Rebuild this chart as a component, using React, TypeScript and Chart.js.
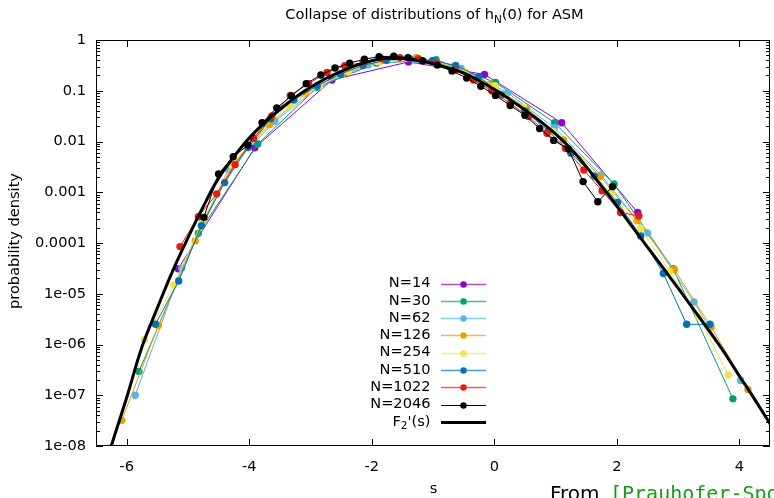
import React, { useEffect, useRef } from "react";
import { Chart, registerables } from "chart.js";
Chart.register(...registerables);

// ---------- data ----------
const n14S = [-5.16, -3.91, -2.65, -1.40, -0.16, 1.10, 2.34];
const n14V = [3.1e-5, 7.5e-3, 0.163, 0.37, 0.21, 0.0234, 4.0e-4];

const n30S = [-5.80, -4.83, -3.86, -2.89, -1.92, -0.95, 0.02, 0.985, 1.955, 2.92, 3.895];
const n30V = [2.95e-7, 1.55e-4, 8.9e-3, 0.117, 0.35, 0.41, 0.145, 0.0234, 1.45e-3, 3.1e-5, 8.5e-8];

const n62S = [-5.86, -5.10, -4.34, -3.58, -2.82, -2.06, -1.30, -0.54, 0.22, 0.98, 1.74, 2.50, 3.26, 4.02];
const n62V = [1.0e-7, 3.2e-5, 2.8e-3, 0.025, 0.13, 0.32, 0.40, 0.275, 0.091, 0.0186, 2.2e-3, 1.58e-4, 6.9e-6, 1.95e-7];

const n126S = [-6.08, -5.48, -4.88, -4.27, -3.67, -3.07, -2.47, -1.87, -1.27, -0.67, -0.07, 0.53, 1.13, 1.73, 2.33, 2.94, 3.54, 4.14];
const n126V = [3.2e-8, 2.4e-6, 1.1e-4, 3.5e-3, 0.0215, 0.089, 0.22, 0.38, 0.45, 0.295, 0.135, 0.045, 0.0107, 2.05e-3, 2.75e-4, 3.0e-5, 2.2e-6, 1.3e-7];

const n254S = [-5.71, -5.23, -4.76, -4.28, -3.81, -3.33, -2.85, -2.38, -1.90, -1.42, -0.95, -0.47, 0.01, 0.48, 0.96, 1.44, 1.91, 2.39, 2.86, 3.34, 3.82];
const n254V = [1.26e-6, 1.48e-5, 2.8e-4, 3.5e-3, 0.0166, 0.052, 0.126, 0.24, 0.37, 0.43, 0.355, 0.235, 0.126, 0.047, 0.0158, 4.0e-3, 9.5e-4, 1.95e-4, 2.75e-5, 3.5e-6, 2.5e-7];

const n510S = [-5.53, -5.15, -4.78, -4.40, -4.02, -3.65, -3.27, -2.89, -2.51, -2.14, -1.76, -1.38, -1.01, -0.63, -0.25, 0.12, 0.50, 0.88, 1.25, 1.63, 2.01, 2.39, 2.76, 3.14, 3.52];
const n510V = [2.5e-6, 1.78e-5, 2.2e-4, 1.55e-3, 7.6e-3, 0.028, 0.066, 0.126, 0.214, 0.316, 0.40, 0.43, 0.39, 0.316, 0.19, 0.083, 0.040, 0.0162, 5.9e-3, 2.1e-3, 6.3e-4, 1.38e-4, 2.5e-5, 2.5e-6, 2.5e-6];

const n1022S = [-5.13, -4.83, -4.53, -4.23, -3.93, -3.63, -3.33, -3.03, -2.73, -2.44, -2.14, -1.84, -1.54, -1.24, -0.94, -0.64, -0.34, -0.04, 0.26, 0.56, 0.86, 1.16, 1.46, 1.76, 2.06, 2.36];
const n1022V = [8.5e-5, 3.3e-4, 9.3e-4, 3.5e-3, 0.0115, 0.032, 0.081, 0.138, 0.23, 0.31, 0.36, 0.43, 0.45, 0.43, 0.355, 0.257, 0.162, 0.10, 0.056, 0.031, 0.0145, 7.4e-3, 2.75e-3, 1.07e-3, 4.0e-4, 3.4e-4];

const n2046S = [-4.74, -4.50, -4.26, -4.02, -3.79, -3.55, -3.31, -3.07, -2.83, -2.60, -2.36, -2.12, -1.88, -1.64, -1.41, -1.17, -0.93, -0.69, -0.45, -0.22, 0.02, 0.26, 0.50, 0.74, 0.97, 1.21, 1.45, 1.69, 1.93];
const n2046V = [3.2e-4, 2.3e-3, 5.0e-3, 8.5e-3, 0.0234, 0.046, 0.079, 0.138, 0.204, 0.28, 0.35, 0.42, 0.47, 0.48, 0.45, 0.39, 0.32, 0.245, 0.178, 0.123, 0.081, 0.051, 0.033, 0.018, 0.0105, 7.1e-3, 1.62e-3, 6.5e-4, 1.29e-3];

const f2S = [-6.4, -6.25, -6.0, -5.75, -5.5, -5.25, -5.0, -4.75, -4.5, -4.25, -4.0, -3.75, -3.5, -3.25, -3.0, -2.75, -2.5, -2.25, -2.0, -1.75, -1.5, -1.25, -1.0, -0.75, -0.5, -0.25, 0, 0.25, 0.5, 0.75, 1.0, 1.25, 1.5, 1.75, 2.0, 2.25, 2.5, 2.75, 3.0, 3.25, 3.5, 3.75, 4.0, 4.25, 4.5];
const f2V = [2.3e-9, 1.0e-8, 8.9e-8, 8.9e-7, 5.2e-6, 2.8e-5, 1.26e-4, 5.2e-4, 1.9e-3, 5.0e-3, 0.0117, 0.0234, 0.0427, 0.074, 0.117, 0.174, 0.24, 0.316, 0.39, 0.435, 0.43, 0.395, 0.34, 0.28, 0.224, 0.158, 0.107, 0.068, 0.042, 0.025, 0.0141, 7.2e-3, 3.2e-3, 1.32e-3, 5.4e-4, 2.1e-4, 8.3e-5, 3.3e-5, 1.29e-5, 5.0e-6, 1.9e-6, 7.1e-7, 2.4e-7, 8.3e-8, 2.75e-8];

const seriesLabels = ["N=14", "N=30", "N=62", "N=126", "N=254", "N=510", "N=1022", "N=2046"];
const seriesColors = ["#9400d3", "#009e73", "#56b4e9", "#e69f00", "#f0e442", "#0072b2", "#e51e10", "#000000"];
const seriesS = [n14S, n30S, n62S, n126S, n254S, n510S, n1022S, n2046S];
const seriesV = [n14V, n30V, n62V, n126V, n254V, n510V, n1022V, n2046V];

const xTickValues = [-6, -4, -2, 0, 2, 4];
const xTickLabels = ["-6", "-4", "-2", "0", "2", "4"];
const yTickValues = [1e-8, 1e-7, 1e-6, 1e-5, 1e-4, 1e-3, 1e-2, 1e-1, 1];
const yTickLabels = ["1e-08", "1e-07", "1e-06", "1e-05", "0.0001", "0.001", "0.01", "0.1", "1"];

const FONT = "DejaVu Sans";

const decorPlugin = {
  id: "decor",
  afterDatasetsDraw(chart: any) {
    const { ctx, chartArea } = chart;
    const { left, right, top, bottom } = chartArea;
    const xs = chart.scales.x;
    const ys = chart.scales.y;
    ctx.save();
    ctx.strokeStyle = "#000";
    ctx.lineWidth = 1;
    ctx.beginPath();
    ctx.rect(Math.round(left) + 0.5, Math.round(top) + 0.5, Math.round(right - left) - 1, Math.round(bottom - top) - 1);
    for (const v of xTickValues) {
      const px = Math.round(xs.getPixelForValue(v)) + 0.5;
      ctx.moveTo(px, bottom);
      ctx.lineTo(px, bottom - 7);
      ctx.moveTo(px, top);
      ctx.lineTo(px, top + 7);
    }
    for (let d = 0; d < yTickValues.length; d++) {
      const base = yTickValues[d];
      const py = Math.round(ys.getPixelForValue(base)) + 0.5;
      ctx.moveTo(left, py);
      ctx.lineTo(left + 7, py);
      ctx.moveTo(right, py);
      ctx.lineTo(right - 7, py);
      if (d < yTickValues.length - 1) {
        for (let m = 2; m <= 9; m++) {
          const pm = Math.round(ys.getPixelForValue(base * m)) + 0.5;
          ctx.moveTo(left, pm);
          ctx.lineTo(left + 4, pm);
          ctx.moveTo(right, pm);
          ctx.lineTo(right - 4, pm);
        }
      }
    }
    ctx.stroke();
    ctx.restore();
  },
  afterDraw(chart: any) {
    const { ctx } = chart;
    ctx.save();
    ctx.fillStyle = "#000";
    ctx.textBaseline = "alphabetic";
    const f = `14.6px '${FONT}'`;
    const fs = `10.5px '${FONT}'`;
    const t1 = "Collapse of distributions of h";
    const t2 = "N";
    const t3 = "(0) for ASM";
    ctx.font = f;
    const w1 = ctx.measureText(t1).width;
    const w3 = ctx.measureText(t3).width;
    ctx.font = fs;
    const w2 = ctx.measureText(t2).width;
    const x0 = 434.5 - (w1 + w2 + w3) / 2;
    const ty = 19;
    ctx.textAlign = "left";
    ctx.font = f;
    ctx.fillText(t1, x0, ty);
    ctx.font = fs;
    ctx.fillText(t2, x0 + w1, ty + 3.5);
    ctx.font = f;
    ctx.fillText(t3, x0 + w1 + w2, ty);

    ctx.font = f;
    ctx.textAlign = "center";
    ctx.textBaseline = "middle";
    ctx.fillText("s", 433.5, 489);
    ctx.save();
    ctx.translate(15, 241);
    ctx.rotate(-Math.PI / 2);
    ctx.fillText("probability density", 0, 0);
    ctx.restore();

    const lx = 430.5;
    const l0 = 441;
    const l1 = 486;
    const mk = 463.5;
    const y0 = 283.5;
    const dy = 17.3;
    ctx.textBaseline = "middle";
    for (let i = 0; i < seriesLabels.length; i++) {
      const y = y0 + i * dy;
      ctx.textAlign = "right";
      ctx.fillStyle = "#000";
      ctx.font = f;
      ctx.fillText(seriesLabels[i], lx, y);
      ctx.strokeStyle = seriesColors[i];
      ctx.globalAlpha = i === 7 ? 1 : 0.7;
      ctx.lineWidth = i === 7 ? 1 : 1.6;
      ctx.beginPath();
      ctx.moveTo(l0, Math.round(y) + 0.5);
      ctx.lineTo(l1, Math.round(y) + 0.5);
      ctx.stroke();
      ctx.globalAlpha = 1;
      ctx.fillStyle = seriesColors[i];
      ctx.beginPath();
      ctx.arc(mk, Math.round(y) + 0.5, 3.2, 0, Math.PI * 2);
      ctx.fill();
    }
    {
      const y = y0 + 8 * dy;
      ctx.fillStyle = "#000";
      ctx.textAlign = "left";
      ctx.font = f;
      const a = "F";
      const c = "'(s)";
      const wa = ctx.measureText(a).width;
      const wc = ctx.measureText(c).width;
      ctx.font = fs;
      const wb = ctx.measureText("2").width;
      const sx = lx - (wa + wb + wc);
      ctx.font = f;
      ctx.fillText(a, sx, y);
      ctx.font = fs;
      ctx.fillText("2", sx + wa, y + 4);
      ctx.font = f;
      ctx.fillText(c, sx + wa + wb, y);
      ctx.strokeStyle = "#000";
      ctx.lineWidth = 3;
      ctx.beginPath();
      ctx.moveTo(l0, Math.round(y) + 0.5);
      ctx.lineTo(l1, Math.round(y) + 0.5);
      ctx.stroke();
    }

    ctx.textAlign = "left";
    ctx.textBaseline = "alphabetic";
    ctx.fillStyle = "#000";
    ctx.font = `20px '${FONT}'`;
    ctx.fillText("From ", 550, 500);
    ctx.fillStyle = "#12a012";
    ctx.font = `20px 'DejaVu Sans Mono'`;
    ctx.fillText("[Prauhofer-Spohn]", 610, 500);
    ctx.restore();
  },
};

export default function App() {
  const ref = useRef<HTMLCanvasElement | null>(null);
  useEffect(() => {
    document.body.style.margin = "0";
    const canvas = ref.current!;
    const datasets: any[] = seriesLabels.map((lab, i) => ({
      label: lab,
      data: seriesS[i].map((s, j) => ({ x: s, y: seriesV[i][j] })),
      borderColor: seriesColors[i],
      backgroundColor: seriesColors[i],
      pointBackgroundColor: seriesColors[i],
      borderWidth: 1,
      pointRadius: 3.7,
      pointBorderWidth: 0,
      tension: 0,
      order: 8 - i,
    }));
    datasets.push({
      label: "F2'(s)",
      data: f2S.map((s, j) => ({ x: s, y: f2V[j] })),
      borderColor: "#000",
      borderWidth: 3,
      pointRadius: 0,
      tension: 0.4,
      order: 0,
    });
    const chart = new Chart(canvas, {
      type: "line",
      data: { datasets },
      options: {
        responsive: false,
        animation: false,
        devicePixelRatio: 1,
        layout: { padding: { top: 40, right: 0, left: 0, bottom: 0 } },
        plugins: { legend: { display: false }, tooltip: { enabled: false }, title: { display: false } },
        scales: {
          x: {
            type: "linear",
            min: -6.5,
            max: 4.5,
            grid: { display: false, drawTicks: false },
            border: { display: false },
            afterBuildTicks: (s: any) => {
              s.ticks = xTickValues.map((v) => ({ value: v }));
            },
            afterFit: (s: any) => {
              s.height = 52;
            },
            ticks: {
              autoSkip: false,
              maxRotation: 0,
              padding: 12,
              color: "#000",
              font: { family: FONT, size: 14.6 },
              callback: (_v: any, i: number) => xTickLabels[i],
            },
          },
          y: {
            type: "logarithmic",
            min: 1e-8,
            max: 1,
            grid: { display: false, drawTicks: false },
            border: { display: false },
            afterBuildTicks: (s: any) => {
              s.ticks = yTickValues.map((v) => ({ value: v }));
            },
            afterFit: (s: any) => {
              s.width = 96;
            },
            ticks: {
              autoSkip: false,
              padding: 10,
              color: "#000",
              font: { family: FONT, size: 14.6 },
              callback: (_v: any, i: number) => yTickLabels[i],
            },
          },
        },
      },
      plugins: [decorPlugin],
    } as any);
    return () => chart.destroy();
  }, []);
  return <canvas ref={ref} width={774} height={498} style={{ display: "block", width: 774, height: 498 }} />;
}
